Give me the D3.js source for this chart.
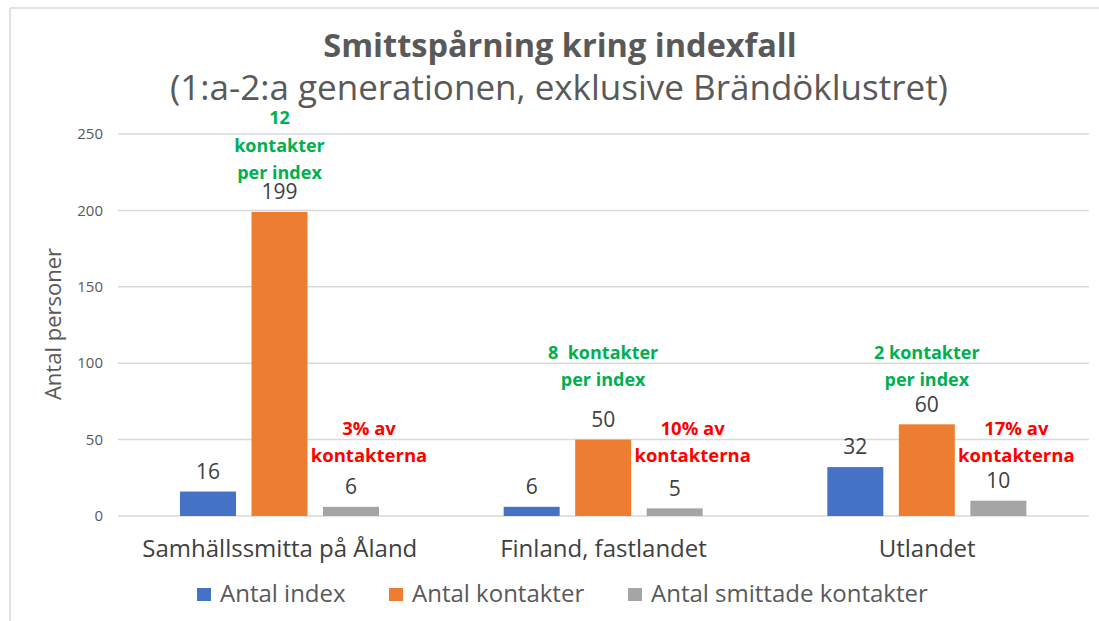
<!DOCTYPE html>
<html>
<head>
<meta charset="utf-8">
<script src="https://cdn.jsdelivr.net/npm/d3@7"></script>
<style>
  body { margin: 0; background: #fff; }
  text { font-family: "Open Sans", "Noto Sans", sans-serif; white-space: pre; }
</style>
</head>
<body>
<div id="chart"></div>
<script>
// data
const categories = ["Samhällssmitta på Åland", "Finland, fastlandet", "Utlandet"];
const seriesNames = ["Antal index", "Antal kontakter", "Antal smittade kontakter"];
const antalIndex = [16, 6, 32];
const antalKontakter = [199, 50, 60];
const antalSmittade = [6, 5, 10];
const perIndexText = [["12", "kontakter", "per index"], ["8  kontakter", "per index"], ["2 kontakter", "per index"]];
const andelText = ["3% av", "10% av", "17% av"];
const yTicks = [0, 50, 100, 150, 200, 250];

const colors = ["#4472C4", "#ED7D31", "#A5A5A5"];
const values = [antalIndex, antalKontakter, antalSmittade];

const width = 1099, height = 621;
const svg = d3.select("#chart").append("svg")
    .attr("width", width)
    .attr("height", height);

// frame (top + left border)
svg.append("line").attr("x1", 10).attr("x2", width).attr("y1", 8).attr("y2", 8)
    .attr("stroke", "#d9d9d9").attr("stroke-width", 1.5);
svg.append("line").attr("x1", 10).attr("x2", 10).attr("y1", 8).attr("y2", height)
    .attr("stroke", "#d9d9d9").attr("stroke-width", 1.5);

// titles
svg.append("text")
    .attr("x", 560).attr("y", 57)
    .attr("text-anchor", "middle")
    .attr("fill", "#595959")
    .style("font-weight", "bold")
    .style("font-size", "32.5px")
    .text("Smittspårning kring indexfall");

svg.append("text")
    .attr("x", 559).attr("y", 100)
    .attr("text-anchor", "middle")
    .attr("fill", "#595959")
    .style("font-size", "35px")
    .text("(1:a-2:a generationen, exklusive Brändöklustret)");

const x0 = d3.scaleBand().domain(categories).range([118, 1089]);
const x1 = d3.scaleBand().domain(seriesNames).range([62, 261]).paddingInner(0.217);
const y = d3.scaleLinear().domain([0, 250]).range([516, 134]);

// gridlines
svg.append("g").selectAll("line").data(yTicks).join("line")
    .attr("x1", 118).attr("x2", 1089)
    .attr("y1", d => y(d)).attr("y2", d => y(d))
    .attr("stroke", "#d9d9d9").attr("stroke-width", 1.5);

// y axis labels
svg.append("g").selectAll("text").data(yTicks).join("text")
    .attr("x", 103).attr("y", d => y(d))
    .attr("dy", "0.35em")
    .attr("text-anchor", "end")
    .attr("fill", "#595959")
    .style("font-size", "15px")
    .text(d => d);

svg.append("text")
    .attr("transform", "translate(61,324) rotate(-90)")
    .attr("text-anchor", "middle")
    .attr("fill", "#595959")
    .style("font-size", "22px")
    .text("Antal personer");

// bars
const groups = svg.append("g").selectAll("g").data(categories).join("g")
    .attr("transform", d => `translate(${x0(d)},0)`);

groups.each(function(cat, ci) {
    const g = d3.select(this);
    seriesNames.forEach((s, si) => {
        const v = values[si][ci];
        g.append("rect")
            .attr("x", x1(s)).attr("width", x1.bandwidth())
            .attr("y", y(v)).attr("height", y(0) - y(v))
            .attr("fill", colors[si]);
        g.append("text")
            .attr("x", x1(s) + x1.bandwidth() / 2)
            .attr("y", y(v) - 20)
            .attr("dy", "0.35em")
            .attr("text-anchor", "middle")
            .attr("fill", "#404040")
            .style("font-size", "21px")
            .text(v);
    });

    // green annotation over the contacts bar
    const kv = antalKontakter[ci];
    const lines = perIndexText[ci];
    const lastY = kv > 100 ? y(kv) - 39 : 380;
    const cx = x1(seriesNames[1]) + x1.bandwidth() / 2;
    lines.forEach((t, li) => {
        g.append("text")
            .attr("x", cx).attr("y", lastY - (lines.length - 1 - li) * 27.5)
            .attr("dy", "0.35em")
            .attr("text-anchor", "middle")
            .attr("fill", "#00B050")
            .style("font-size", "18px")
            .style("font-weight", "bold")
            .text(t);
    });

    // red annotation next to infected bar
    const rx = x1(seriesNames[2]) + x1.bandwidth() / 2 + 18;
    [andelText[ci], "kontakterna"].forEach((t, li) => {
        g.append("text")
            .attr("x", rx).attr("y", 429 + li * 27)
            .attr("dy", "0.35em")
            .attr("text-anchor", "middle")
            .attr("fill", "#FF0000")
            .style("font-size", "18.5px")
            .style("font-weight", "bold")
            .text(t);
    });
});

// category labels
svg.append("g").selectAll("text").data(categories).join("text")
    .attr("x", d => x0(d) + x0.bandwidth() / 2)
    .attr("y", 549)
    .attr("dy", "0.35em")
    .attr("text-anchor", "middle")
    .attr("fill", "#404040")
    .style("font-size", "24px")
    .text(d => d);

// legend
const legendX = [197, 389, 628];
const legend = svg.append("g").selectAll("g").data(seriesNames).join("g")
    .attr("transform", (d, i) => `translate(${legendX[i]},595)`);
legend.append("rect").attr("x", 0).attr("y", -7).attr("width", 14).attr("height", 13)
    .attr("fill", (d, i) => colors[i]);
legend.append("text").attr("x", 23).attr("y", -1).attr("dy", "0.35em")
    .attr("fill", "#595959")
    .style("font-size", "24px")
    .text(d => d);
</script>
</body>
</html>
